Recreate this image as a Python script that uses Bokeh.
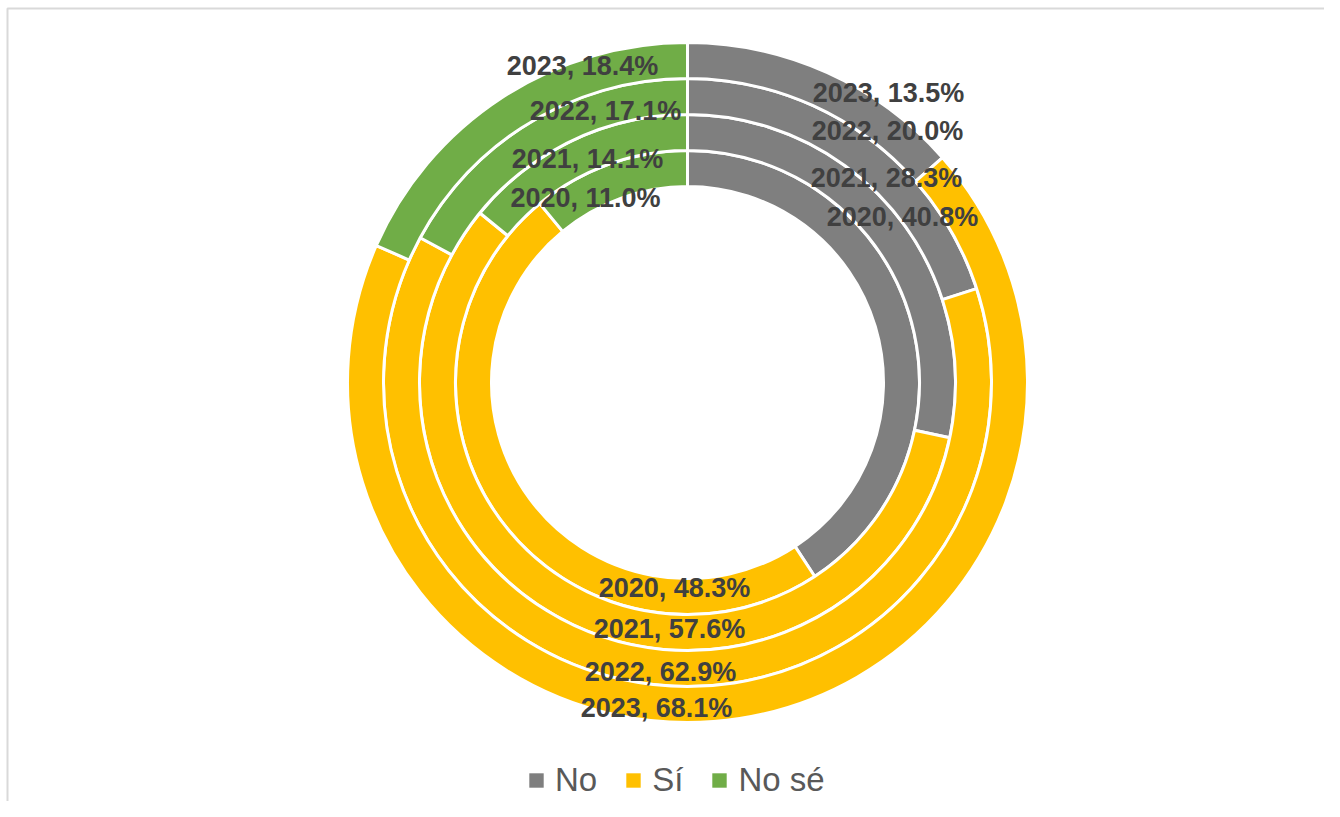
import math
from bokeh.plotting import figure
from bokeh.models import Range1d, Legend, LegendItem, ColumnDataSource
from bokeh.core.properties import value
from bokeh.embed import file_html
from bokeh.resources import INLINE

# ---- data ----
years = ["2020", "2021", "2022", "2023"]
categories = ["No", "Sí", "No sé"]
no_vals = [40.8, 28.3, 20.0, 13.5]
si_vals = [48.3, 57.6, 62.9, 68.1]
nose_vals = [11.0, 14.1, 17.1, 18.4]

# ---- style / layout ----
colors = ["#7f7f7f", "#ffc000", "#70ad47"]
W, H = 1324, 801            # figure size (px)
YTOP = 817                  # drawing space: y measured upward from 817px below top
CX, CY = 687, 435           # donut centre
R_INNER = 196
RING = 36
# label placement (offsets from the donut centre), per category, per year
label_offsets = {
    "No":    [(215, 166), (199, 205), (200, 252), (201, 290)],
    "Sí":    [(-13, -205), (-18, -246), (-27, -289), (-31, -325)],
    "No sé": [(-102, 185), (-100, 224), (-82, 272), (-105, 317)],
}

p = figure(width=W, height=H, x_range=Range1d(0, W), y_range=Range1d(YTOP - H, YTOP),
           output_backend="svg", toolbar_location=None, min_border=0,
           x_axis_location=None, y_axis_location=None)
p.grid.visible = False
p.outline_line_color = None
p.background_fill_color = "white"
p.border_fill_color = "white"

# chart-area frame
p.quad(left=[7], right=[1337], top=[809], bottom=[-20], fill_color=None,
       line_color="#d9d9d9", line_width=2)

series = [no_vals, si_vals, nose_vals]
wx, wy, wi, wo, ws, we, wc = [], [], [], [], [], [], []
tx, ty, tt = [], [], []
for i, yr in enumerate(years):
    vals = [s[i] for s in series]
    total = sum(vals)
    cum = 0.0
    for j, v in enumerate(vals):
        a0 = math.pi / 2 - 2 * math.pi * cum / total
        cum += v
        a1 = math.pi / 2 - 2 * math.pi * cum / total
        wx.append(CX); wy.append(CY)
        wi.append(R_INNER + i * RING); wo.append(R_INNER + (i + 1) * RING)
        ws.append(a0); we.append(a1); wc.append(colors[j])
        dx, dy = label_offsets[categories[j]][i]
        tx.append(CX + dx); ty.append(CY + dy)
        tt.append(f"{yr}, {v:.1f}%")

src = ColumnDataSource(dict(x=wx, y=wy, ir=wi, orr=wo, sa=ws, ea=we, c=wc))
p.annular_wedge(x="x", y="y", inner_radius="ir", outer_radius="orr",
                start_angle="sa", end_angle="ea", direction="clock",
                fill_color="c", line_color="white", line_width=3, source=src)

lsrc = ColumnDataSource(dict(x=tx, y=ty, t=tt))
p.text(x="x", y="y", text="t", source=lsrc, text_font=value("Liberation Sans"),
       text_font_style="bold", text_font_size="27px", text_color="#404040",
       text_align="center", text_baseline="middle")

items = []
for cat, col in zip(categories, colors):
    r = p.quad(left=[-60], right=[-50], top=[-50], bottom=[-60],
               fill_color=col, line_color=None)
    items.append(LegendItem(label=cat, renderers=[r]))
legend = Legend(items=items, orientation="horizontal", location=(527, 2),
                glyph_width=18, glyph_height=18,
                label_text_font="Liberation Sans", label_text_font_size="33px",
                label_text_color="#595959", label_standoff=10, spacing=27,
                padding=0, margin=0, border_line_color=None,
                background_fill_alpha=0)
p.add_layout(legend, "center")

open("out.html", "w").write(file_html(p, INLINE))
